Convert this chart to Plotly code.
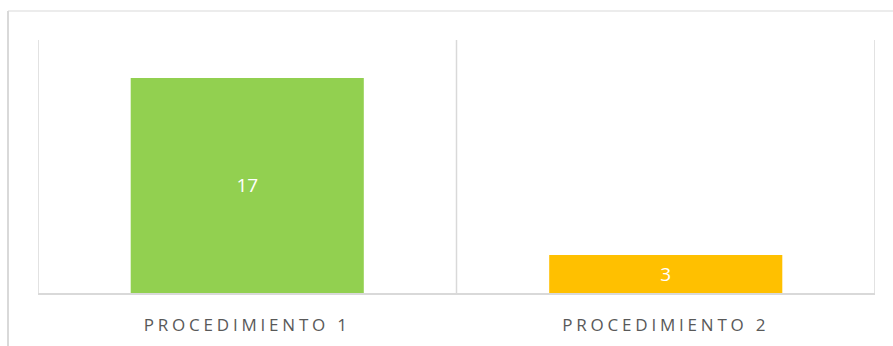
import plotly.graph_objects as go

# Chart data
categories = ["PROCEDIMIENTO 1", "PROCEDIMIENTO 2"]
values = [17, 3]
bar_colors = ["#92D050", "#FFC000"]

W, H = 893, 346
left, right, top, bottom = 38, 18, 40, 53
plot_w = W - left - right
plot_h = H - top - bottom

GRID = "#D9D9D9"

fig = go.Figure(
    go.Bar(
        x=categories,
        y=values,
        marker=dict(color=bar_colors, line=dict(width=0)),
        width=0.557,
        text=[str(v) for v in values],
        textposition="inside",
        insidetextanchor="middle",
        textangle=0,
        textfont=dict(color="white", size=19, family="'Open Sans', Lato, sans-serif"),
        hoverinfo="skip",
    )
)

# category separators
shapes = []
for xv in (-0.5, 0.5, 1.5):
    shapes.append(dict(type="line", xref="x", yref="paper", x0=xv, x1=xv, y0=0, y1=1,
                       line=dict(color=GRID, width=1.5), layer="below"))

# outer chart frame (left and top edges)
px = lambda v: (v - left) / plot_w
py = lambda v: (H - bottom - v) / plot_h
shapes.append(dict(type="line", xref="paper", yref="paper",
                   x0=px(8), x1=px(8), y0=py(11), y1=py(H + 5),
                   line=dict(color=GRID, width=2)))
shapes.append(dict(type="line", xref="paper", yref="paper",
                   x0=px(8), x1=px(W + 5), y0=py(11), y1=py(11),
                   line=dict(color=GRID, width=1.2)))

fig.update_layout(
    width=W,
    height=H,
    margin=dict(l=left, r=right, t=top, b=bottom),
    paper_bgcolor="white",
    plot_bgcolor="white",
    showlegend=False,
    shapes=shapes,
    bargap=0.443,
    font=dict(family="'Open Sans', Lato, sans-serif", color="#595959"),
    xaxis=dict(
        range=[-0.5, 1.5],
        showgrid=False,
        showline=True,
        linecolor=GRID,
        linewidth=2,
        ticks="",
        tickfont=dict(size=17, color="#595959"),
        ticklabelstandoff=16,
        automargin=False,
        zeroline=False,
        fixedrange=True,
    ),
    yaxis=dict(
        range=[0, 20],
        visible=False,
        showgrid=False,
        zeroline=False,
        automargin=False,
        fixedrange=True,
    ),
)

# spaced capitals for the category labels
post = """
document.querySelectorAll('.xtick text').forEach(function(t){
  t.style.letterSpacing = '3.8px';
});
"""

fig.write_html("out.html", config={"displayModeBar": False, "staticPlot": True}, post_script=post)
